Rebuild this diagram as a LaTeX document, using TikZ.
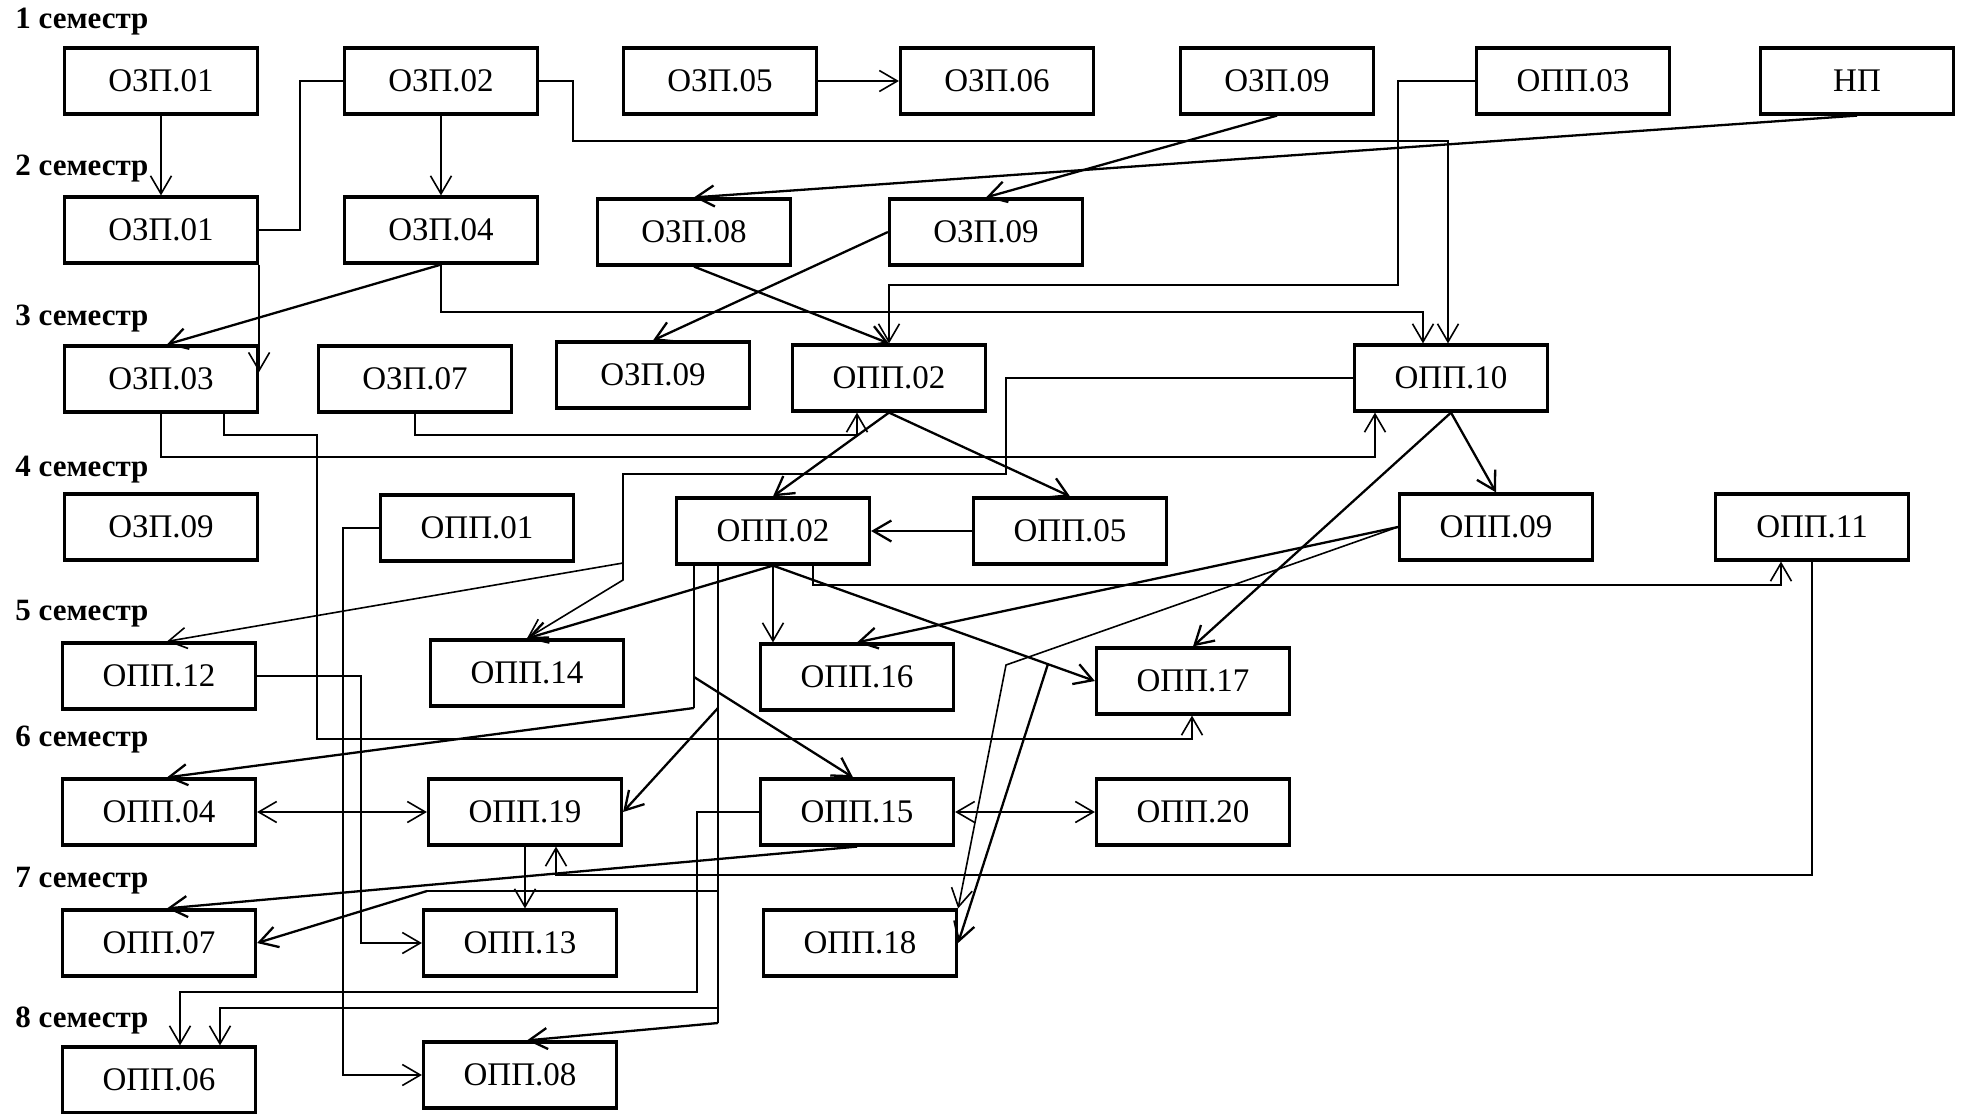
\documentclass[tikz,border=0pt]{standalone}
\usepackage{fontspec}
\setmainfont{Liberation Serif}
\usetikzlibrary{arrows.meta}

\tikzset{
  box/.style={draw, line width=1.6pt, minimum width=96.5pt, minimum height=33pt,
    inner sep=0pt, font=\fontsize{16.5}{18}\selectfont},
  sem/.style={anchor=base west, inner sep=0pt, font=\fontsize{15.5}{17}\selectfont\bfseries},
  lnk/.style={line width=0.8pt},
  bold/.style={line width=1.15pt},
}

\begin{document}
\begin{tikzpicture}[x=0.5pt, y=-0.5pt, >={Straight Barb[length=9pt,width=10.5pt]}]
\useasboundingbox (0,0) rectangle (1966,1114);

% semesters
\node[sem] (s1) at (15,28) {1 семестр};
\node[sem] (s2) at (15,175) {2 семестр};
\node[sem] (s3) at (15,325) {3 семестр};
\node[sem] (s4) at (15,476) {4 семестр};
\node[sem] (s5) at (15,620) {5 семестр};
\node[sem] (s6) at (15,746) {6 семестр};
\node[sem] (s7) at (15,887) {7 семестр};
\node[sem] (s8) at (15,1027) {8 семестр};

% row 1
\node[box] (ozp01a) at (161,81) {ОЗП.01};
\node[box] (ozp02) at (441,81) {ОЗП.02};
\node[box] (ozp05) at (720,81) {ОЗП.05};
\node[box] (ozp06) at (997,81) {ОЗП.06};
\node[box] (ozp09a) at (1277,81) {ОЗП.09};
\node[box] (opp03) at (1573,81) {ОПП.03};
\node[box] (np) at (1857,81) {НП};
% row 2
\node[box] (ozp01b) at (161,230) {ОЗП.01};
\node[box] (ozp04) at (441,230) {ОЗП.04};
\node[box] (ozp08) at (694,232) {ОЗП.08};
\node[box] (ozp09b) at (986,232) {ОЗП.09};
% row 3
\node[box] (ozp03) at (161,379) {ОЗП.03};
\node[box] (ozp07) at (415,379) {ОЗП.07};
\node[box] (ozp09c) at (653,375) {ОЗП.09};
\node[box] (opp02a) at (889,378) {ОПП.02};
\node[box] (opp10) at (1451,378) {ОПП.10};
% row 4
\node[box] (ozp09d) at (161,527) {ОЗП.09};
\node[box] (opp01) at (477,528) {ОПП.01};
\node[box] (opp02b) at (773,531) {ОПП.02};
\node[box] (opp05) at (1070,531) {ОПП.05};
\node[box] (opp09) at (1496,527) {ОПП.09};
\node[box] (opp11) at (1812,527) {ОПП.11};
% row 5
\node[box] (opp12) at (159,676) {ОПП.12};
\node[box] (opp14) at (527,673) {ОПП.14};
\node[box] (opp16) at (857,677) {ОПП.16};
\node[box] (opp17) at (1193,681) {ОПП.17};
% row 6
\node[box] (opp04) at (159,812) {ОПП.04};
\node[box] (opp19) at (525,812) {ОПП.19};
\node[box] (opp15) at (857,812) {ОПП.15};
\node[box] (opp20) at (1193,812) {ОПП.20};
% row 7
\node[box] (opp07) at (159,943) {ОПП.07};
\node[box] (opp13) at (520,943) {ОПП.13};
\node[box] (opp18) at (860,943) {ОПП.18};
% row 8
\node[box] (opp06) at (159,1080) {ОПП.06};
\node[box] (opp08) at (520,1075) {ОПП.08};

% semester 1 -> 2, 3
\draw[lnk,->] (ozp01a) -- (ozp01b);
\draw[lnk,->] (ozp02) -- (ozp04);
\draw[lnk,->] (ozp05) -- (ozp06);
\draw[lnk] (ozp01b.east) -| (300,81) -- (ozp02.west);
\draw[lnk,->] (ozp02.east) -| (573,141) -| (opp10.north -| 1448,0);
\draw[bold,->] (np.south) -- (ozp08.north);
\draw[bold,->] (ozp09a.south) -- (ozp09b.north);
\draw[lnk,->] (opp03.west) -| (1398,285) -| (opp02a.north);

% semester 2 -> 3
\draw[bold,->] (ozp08.south) -- (opp02a.north);
\draw[bold,->] (ozp09b.west) -- (ozp09c.north);
\draw[lnk,->] (ozp04.south) |- (1423,312) -- (opp10.north -| 1423,0);
\draw[bold,->] (ozp04.south) -- (ozp03.north -| 167,0);
\draw[lnk,->] (ozp01b.south east) -- (ozp03.north east |- 0,372);

% semester 3 -> 4, 5
\draw[lnk,->] (ozp03.south) |- (1375,457) -- (opp10.south -| 1375,0);
\draw[lnk,->] (ozp03.south -| 224,0) |- (317,435) |- (1192,739) -- (opp17.south -| 1192,0);
\draw[lnk,->] (ozp07.south) |- (857,435) -- (opp02a.south -| 857,0);
\draw[bold,->] (opp02a.south) -- (opp02b.north);
\draw[bold,->] (opp02a.south) -- (opp05.north);
\draw[bold,->] (opp05) -- (opp02b);
\draw[bold,->] (opp10.south) -- (opp09.north);
\draw[bold,->] (opp10.south) -- (opp17.north);
\coordinate (v1) at (623,563);
\draw[lnk,->] (opp10.west) -| (1006,474) -| (623,580) -- (opp14.north);
\draw[lnk,->] (v1) -- (opp12.north -| 167,0);

% semester 4 -> 5..8
\draw[lnk,->] (opp02b.south -| 813,0) |- (1781,585) -- (opp11.south -| 1781,0);
\draw[bold,->] (opp09.west) -- (opp16.north);
\draw[lnk,->] (opp09.west) -- (1006,665) -- (opp18.north east);
\draw[bold,->] (opp02b.south) -- (opp17.west) coordinate[pos=0.854] (z1);
\draw[bold,->] (z1) -- (opp18.east);
\draw[lnk,->] (opp02b.south) -- (opp02b.south |- opp16.north);
\draw[bold,->] (opp02b.south) -- (opp14.north);
\coordinate (c1) at (694,677);
\draw[lnk] (opp02b.south -| 694,0) -- (694,708);
\draw[bold,->] (694,708) -- (opp04.north -| 167,0);
\draw[bold,->] (c1) -- (opp15.north -| 853,0);
\draw[lnk] (opp02b.south -| 718,0) -- (718,1023);
\draw[bold,->] (718,1023) -- (opp08.north -| 527,0);
\draw[bold,->] (718,708) -- (opp19.east);
\draw[lnk] (718,891) -- (427,891);
\draw[bold,->] (427,891) -- (opp07.east);
\draw[lnk,->] (718,1008) -| (opp06.north -| 220,0);
\draw[lnk,->] (opp01.west) -| (opp08.west -| 343,0) -- (opp08.west);
\draw[lnk,->] (opp12.east) -| (opp13.west -| 361,0) -- (opp13.west);

% semester 6 -> 7, 8
\draw[lnk,->] (opp15.west) -| (697,992) -| (opp06.north -| 180,0);
\draw[bold,->] (opp15.south) -- (opp07.north -| 167,0);
\draw[lnk,<->] (opp15) -- (opp20);
\draw[lnk,<->] (opp04) -- (opp19);
\draw[lnk,->] (opp19.south) -- (opp19.south |- opp13.north);
\draw[lnk,->] (opp11.south) |- (556,875) -- (opp19.south -| 556,0);

\end{tikzpicture}
\end{document}
